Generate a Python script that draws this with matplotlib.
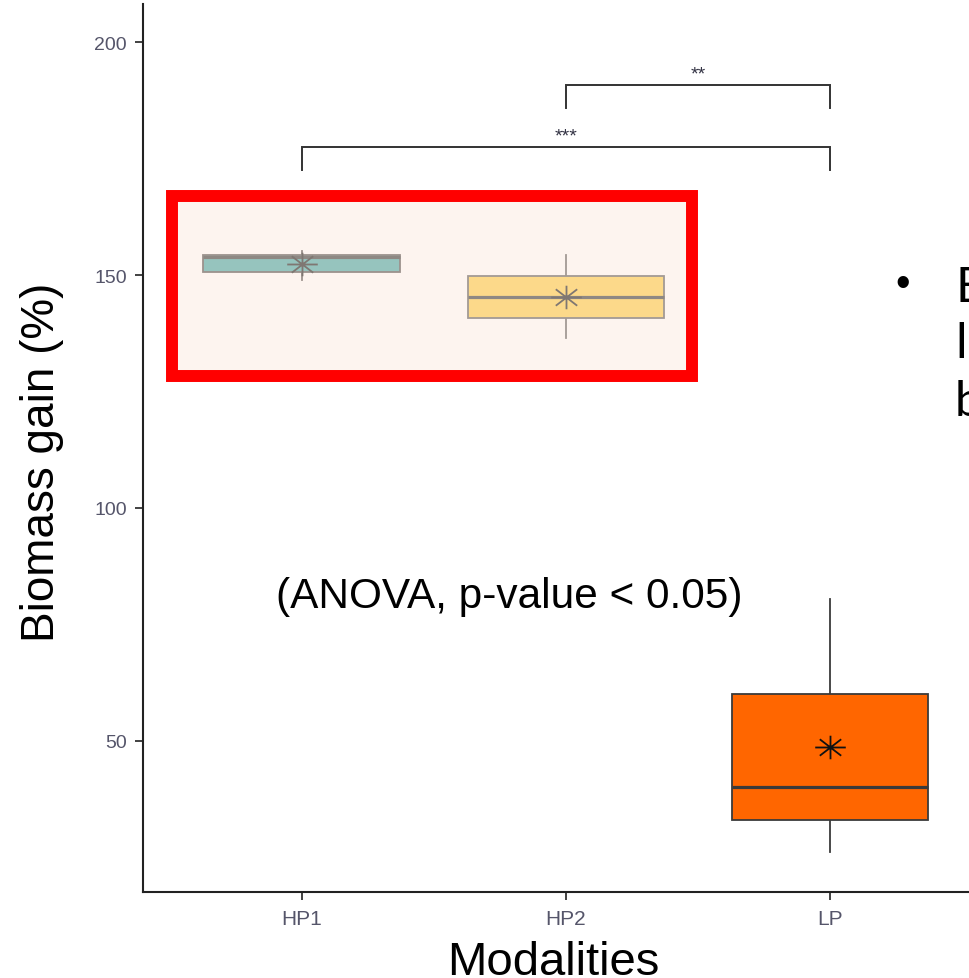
import matplotlib
matplotlib.use("Agg")
import matplotlib.pyplot as plt
from matplotlib.patches import Rectangle
from matplotlib.path import Path
import numpy as np

# ---- data ----
categories = ["HP1", "HP2", "LP"]
whislo = [149.0, 136.4, 26.0]
q1 = [150.7, 140.7, 32.9]
medians = [153.8, 145.2, 40.0]
q3 = [154.2, 149.7, 60.1]
whishi = [155.2, 154.4, 80.5]
means = [152.4, 145.3, 48.6]
yticks = [50, 100, 150, 200]
sig_pairs = [(1, 2), (0, 2)]
sig_heights = [190.8, 177.5]
sig_labels = ["**", "***"]

# ---- styles ----
fill_colors = ["#96C4BE", "#FCD98A", "#FF6600"]
edge_colors = ["#9C928D", "#A39A95", "#3A3A3A"]
median_colors = ["#8E8883", "#8E8883", "#3A3A3A"]
mean_colors = ["#7F7772", "#7F7772", "#111111"]

W, H = 969, 979
fig = plt.figure(figsize=(W / 100, H / 100), dpi=100)

def fx(px):
    return px / W

def fy(py):
    return 1 - py / H

ax_left, ax_right, ax_top, ax_bot = 143.3, 988.5, 5.0, 893.3
ax = fig.add_axes([fx(ax_left), fy(ax_bot), fx(ax_right - ax_left), (ax_bot - ax_top) / H])
ax.set_xlim(-0.6, 2.6)
ax.set_ylim(17.44, 208.2)

# highlight rectangle (behind boxes)
rect = Rectangle((fx(172), fy(377)), fx(520), 180 / H, transform=fig.transFigure,
                 facecolor="#FDF4EF", edgecolor="#FF0000", linewidth=8.6,
                 zorder=0.5, clip_on=False)
ax.add_patch(rect)

stats = []
for i, c in enumerate(categories):
    stats.append(dict(label=c, whislo=whislo[i], q1=q1[i], med=medians[i],
                      q3=q3[i], whishi=whishi[i], fliers=[]))

positions = np.arange(len(categories))
bp = ax.bxp(stats, positions=positions, widths=0.745, patch_artist=True,
            showcaps=False, showfliers=False, manage_ticks=False)
for i, box in enumerate(bp["boxes"]):
    box.set_facecolor(fill_colors[i])
    box.set_edgecolor(edge_colors[i])
    box.set_linewidth(1.3)
    box.set_zorder(2)
for i, med in enumerate(bp["medians"]):
    med.set_color(median_colors[i])
    med.set_linewidth(2.3)
    med.set_zorder(3)
for j, wh in enumerate(bp["whiskers"]):
    i = j // 2
    wh.set_color(edge_colors[i])
    wh.set_linewidth(1.3)
    wh.set_zorder(1.5)

# asterisk marker (ggplot shape 8), slightly wider than tall
a, b = 1.0, 0.77
verts = [(-a, 0), (a, 0), (0, -b), (0, b),
         (-0.7 * a, -0.7 * b), (0.7 * a, 0.7 * b),
         (-0.7 * a, 0.7 * b), (0.7 * a, -0.7 * b)]
codes = [Path.MOVETO, Path.LINETO] * 4
star = Path(verts, codes)
for i in range(len(categories)):
    ax.plot([positions[i]], [means[i]], marker=star, markersize=22,
            markeredgewidth=1.3, color=mean_colors[i], linestyle="none", zorder=4)

# significance brackets
for (x0, x1), h, lab in zip(sig_pairs, sig_heights, sig_labels):
    ax.plot([x0, x0, x1, x1], [h - 4.9, h, h, h - 4.9], color="#333333",
            linewidth=1.4, zorder=3, solid_joinstyle="miter")
    ax.text((x0 + x1) / 2, h + 0.6, lab, ha="center", va="bottom",
            fontsize=14, color="#333344", family="Liberation Sans")

# axes styling
for s in ["top", "right"]:
    ax.spines[s].set_visible(False)
for s in ["left", "bottom"]:
    ax.spines[s].set_linewidth(1.5)
    ax.spines[s].set_color("#222222")
ax.set_yticks(yticks)
ax.set_yticklabels([str(t) for t in yticks], family="Liberation Sans",
                   fontsize=14, color="#55556A")
ax.set_xticks(positions)
ax.set_xticklabels(categories, family="Liberation Sans", fontsize=15, color="#55556A")
ax.tick_params(axis="both", length=6, width=1.3, color="#333333", pad=6)

# texts
fig.text(fx(42), fy(462), "Biomass gain (%)", rotation=90, ha="center", va="center",
         fontsize=33, family="Liberation Sans", color="black")
fig.text(fx(553), fy(975), "Modalities", ha="center", va="baseline",
         fontsize=34, family="Liberation Sans", color="black")
fig.text(fx(509.5), fy(608), "(ANOVA, p-value < 0.05)", ha="center", va="baseline",
         fontsize=30.5, family="Liberation Sans", color="black")

# partial slide text on the right
fig.text(fx(903), fy(285), "\u2022", ha="center", va="center", fontsize=30,
         family="Liberation Sans", color="black")
for txt, base in zip(["B", "li", "b"], [302, 358, 416]):
    fig.text(fx(955), fy(base), txt, ha="left", va="baseline", fontsize=35,
             family="Lato", color="black")

fig.savefig("out.png", dpi=100)
